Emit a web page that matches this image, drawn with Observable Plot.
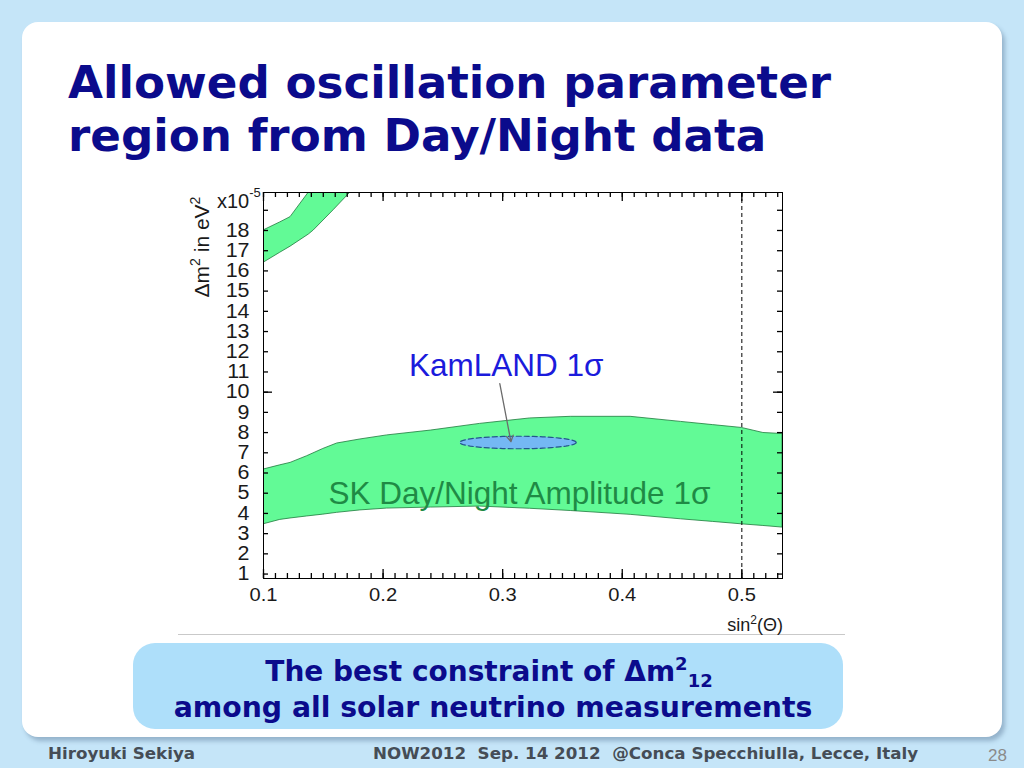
<!DOCTYPE html>
<html><head><meta charset="utf-8">
<script src="https://cdn.jsdelivr.net/npm/d3@7"></script>
<script src="https://cdn.jsdelivr.net/npm/@observablehq/plot@0.6"></script>
<style>
html,body{margin:0;padding:0;}
body{width:1024px;height:768px;background:#c5e5f8;position:relative;overflow:hidden;font-family:"DejaVu Sans",sans-serif;}
#card{position:absolute;left:22px;top:22px;width:980px;height:715px;background:#fff;border-radius:16px;box-shadow:3px 4px 4px rgba(90,120,150,0.45);z-index:0;}
#overlay{position:absolute;left:0;top:0;z-index:1;}
#plot{position:absolute;left:180px;top:170px;width:620px;height:470px;z-index:2;}
#plot svg{max-width:none !important;}
</style></head><body>
<div id="card"></div>
<svg id="overlay" width="1024" height="768" font-family="DejaVu Sans, sans-serif">
  <text x="68" y="98" font-size="45.2" font-weight="bold" fill="#0b0b8c">Allowed oscillation parameter</text>
  <text x="68" y="151" font-size="45.2" font-weight="bold" fill="#0b0b8c">region from Day/Night data</text>
  <line x1="178" x2="845" y1="634.5" y2="634.5" stroke="#c9c9c9" stroke-width="1"/>
  <rect x="133" y="643" width="710" height="86" rx="22" fill="#aedffa"/>
  <text x="489" y="681" text-anchor="middle" font-size="28" font-weight="bold" fill="#0b0b8c">The best constraint of Δm<tspan font-size="18" dy="-11">2</tspan><tspan font-size="18" dy="17">12</tspan></text>
  <text x="493" y="717" text-anchor="middle" font-size="28.3" font-weight="bold" fill="#0b0b8c">among all solar neutrino measurements</text>
  <text x="48" y="759" font-size="16.7" font-weight="bold" fill="#454d56">Hiroyuki Sekiya</text>
  <text x="373" y="759" font-size="16.7" font-weight="bold" fill="#454d56" style="white-space:pre">NOW2012  Sep. 14 2012  @Conca Specchiulla, Lecce, Italy</text>
  <text x="1007" y="761" text-anchor="end" font-size="17" font-family="Liberation Sans, Arial, sans-serif" fill="#8a8a8a">28</text>
</svg>
<div id="plot"></div>
<script>
// ---- data ----
const bandX    = [0.100,0.114,0.1226,0.1365,0.150,0.1616,0.181,0.2034,0.240,0.281,0.323,0.357,0.407,0.449,0.476,0.500,0.518,0.534];
const bandLow  = [3.46, 3.68, 3.75,  3.85,  3.94, 4.03,  4.15, 4.24,  4.29, 4.34, 4.23, 4.12, 3.93, 3.71, 3.58, 3.46, 3.38, 3.30];
const bandHigh = [6.17, 6.38, 6.50,  6.83,  7.19, 7.46,  7.66, 7.86,  8.10, 8.43, 8.70, 8.78, 8.78, 8.53, 8.37, 8.23, 7.98, 7.93];
const cornerX    = [0.100,0.114,0.1226,0.1379,0.142,0.1586,0.1727];
const cornerLow  = [16.4, 16.9, 17.2,  17.8,  18.0, 19.0,  19.88];
const cornerHigh = [18.0, 18.4, 18.66, 19.88, 20.2, 21.5,  22.6];
const kamCenter = [0.3128, 7.51];
const kamRadius = [0.0487, 0.31];
const arrowFrom = [0.2976, 10.42];
const arrowTo   = [0.3069, 7.55];
const labelText = ["KamLAND 1σ", "SK Day/Night Amplitude 1σ"];
const labelX    = [0.303, 0.314];
const labelY    = [11.3, 4.99];
const labelColor= ["#1b1bdc", "#1f8a45"];
const xMajor = [0.1, 0.2, 0.3, 0.4, 0.5];
const xMinor = d3.range(10, 54).map(i => i / 100);
const yTicks = d3.range(1, 20);
const yMajor = [10];
const yLabels = d3.range(1, 19);
const xDomain = [0.1, 0.534];
const yDomain = [0.78, 19.88];

// ---- layout ----
const W = 620, H = 470, mL = 83, mR = 18, mT = 22, mB = 62;
const fW = W - mL - mR, fH = H - mT - mB;
const GREEN = "#62fa96", EDGE = "#1e7a3c";

const band = bandX.map((x, i) => ({x, lo: bandLow[i], hi: bandHigh[i]}));
const corner = cornerX.map((x, i) => ({x, lo: cornerLow[i], hi: cornerHigh[i]}));
const ellipse = d3.range(0, 361, 5).map(a => ({
  x: kamCenter[0] + kamRadius[0] * Math.cos(a * Math.PI / 180),
  y: kamCenter[1] + kamRadius[1] * Math.sin(a * Math.PI / 180)
}));
const labels = labelText.map((t, i) => ({t, x: labelX[i], y: labelY[i], c: labelColor[i]}));
const font = "Liberation Sans, Arial, sans-serif";

// inward tick marks as Plot tick marks (inset to a few pixels at each frame edge)
const bottomTicks = (t, len) => Plot.tickX(t, {x: d => d, insetTop: fH - len, stroke: "#000", strokeWidth: 1.3});
const topTicks    = (t, len) => Plot.tickX(t, {x: d => d, insetBottom: fH - len, stroke: "#000", strokeWidth: 1.3});
const leftTicks   = (t, len) => Plot.tickY(t, {y: d => d, insetRight: fW - len, stroke: "#000", strokeWidth: 1.3});
const rightTicks  = (t, len) => Plot.tickY(t, {y: d => d, insetLeft: fW - len, stroke: "#000", strokeWidth: 1.3});

const plot = Plot.plot({
  width: W, height: H,
  marginLeft: mL, marginRight: mR, marginTop: mT, marginBottom: mB,
  x: {domain: xDomain, axis: null},
  y: {domain: yDomain, axis: null},
  style: {background: "transparent", fontFamily: font, overflow: "visible"},
  marks: [
    Plot.areaY(band, {x: "x", y1: "lo", y2: "hi", fill: GREEN, stroke: EDGE, strokeWidth: 0.8, clip: true}),
    Plot.areaY(corner, {x: "x", y1: "lo", y2: "hi", fill: GREEN, stroke: EDGE, strokeWidth: 0.8, clip: true}),
    Plot.ruleX([0.5], {stroke: "#000", strokeDasharray: "4,3", strokeWidth: 1}),
    Plot.line(ellipse, {x: "x", y: "y", fill: "#74b8f4", stroke: "#24568c", strokeDasharray: "5,3", strokeWidth: 1.2}),
    Plot.arrow([0], {x1: () => arrowFrom[0], y1: () => arrowFrom[1], x2: () => arrowTo[0], y2: () => arrowTo[1], stroke: "#6b6b6b", strokeWidth: 1.3, headLength: 8}),
    Plot.text(labels, {x: "x", y: "y", text: "t", fill: "c", fontSize: 31.5, fontFamily: font}),
    Plot.frame({stroke: "#000", strokeWidth: 1}),
    bottomTicks(xMinor, 5), bottomTicks(xMajor, 9),
    topTicks(xMinor, 5), topTicks(xMajor, 9),
    leftTicks(yTicks, 5), leftTicks(yMajor, 9),
    rightTicks(yTicks, 5), rightTicks(yMajor, 9),
    Plot.text(xMajor, {x: d => d, frameAnchor: "bottom", dy: 22, text: d => d.toFixed(1), fontSize: 18, fill: "#1a1a1a"}),
    Plot.text(yLabels, {y: d => d, frameAnchor: "left", dx: -14, textAnchor: "end", text: d => String(d), fontSize: 19.5, fill: "#1a1a1a"})
  ]
});
document.getElementById("plot").appendChild(plot);
const svg = d3.select(plot);

// widen tick labels horizontally around their anchor point
const textGroups = svg.selectAll('g[aria-label="text"]').nodes();
function stretch(group, s) {
  if (!group) return;
  d3.select(group).selectAll("text").each(function () {
    const el = d3.select(this);
    const x = +el.attr("x") || 0;
    const t = el.attr("transform") || "";
    el.attr("transform", `${t} translate(${x},0) scale(${s},1) translate(${-x},0)`);
  });
}
stretch(textGroups[1], 1.12);
stretch(textGroups[2], 1.1);

// axis titles with super-scripts
const yl = svg.append("text")
  .attr("transform", `translate(${mL - 54},${mT + 55}) rotate(-90)`)
  .attr("text-anchor", "middle").attr("font-size", 21).attr("font-family", font).attr("fill", "#1a1a1a");
yl.append("tspan").text("Δm");
yl.append("tspan").attr("font-size", 14).attr("dy", -9).text("2");
yl.append("tspan").attr("dy", 9).text(" in eV");
yl.append("tspan").attr("font-size", 14).attr("dy", -9).text("2");

const ex = svg.append("text").attr("x", mL - 46).attr("y", mT + 16)
  .attr("text-anchor", "start").attr("font-size", 20).attr("font-family", font).attr("fill", "#1a1a1a");
ex.append("tspan").text("x10");
ex.append("tspan").attr("font-size", 13).attr("dy", -11).text("-5");

const xl = svg.append("text").attr("x", mL + fW + 1).attr("y", H - 9)
  .attr("text-anchor", "end").attr("font-size", 18).attr("font-family", font).attr("fill", "#1a1a1a");
xl.append("tspan").text("sin");
xl.append("tspan").attr("font-size", 12).attr("dy", -7).text("2");
xl.append("tspan").attr("dy", 7).text("(Θ)");
</script>
</body></html>
